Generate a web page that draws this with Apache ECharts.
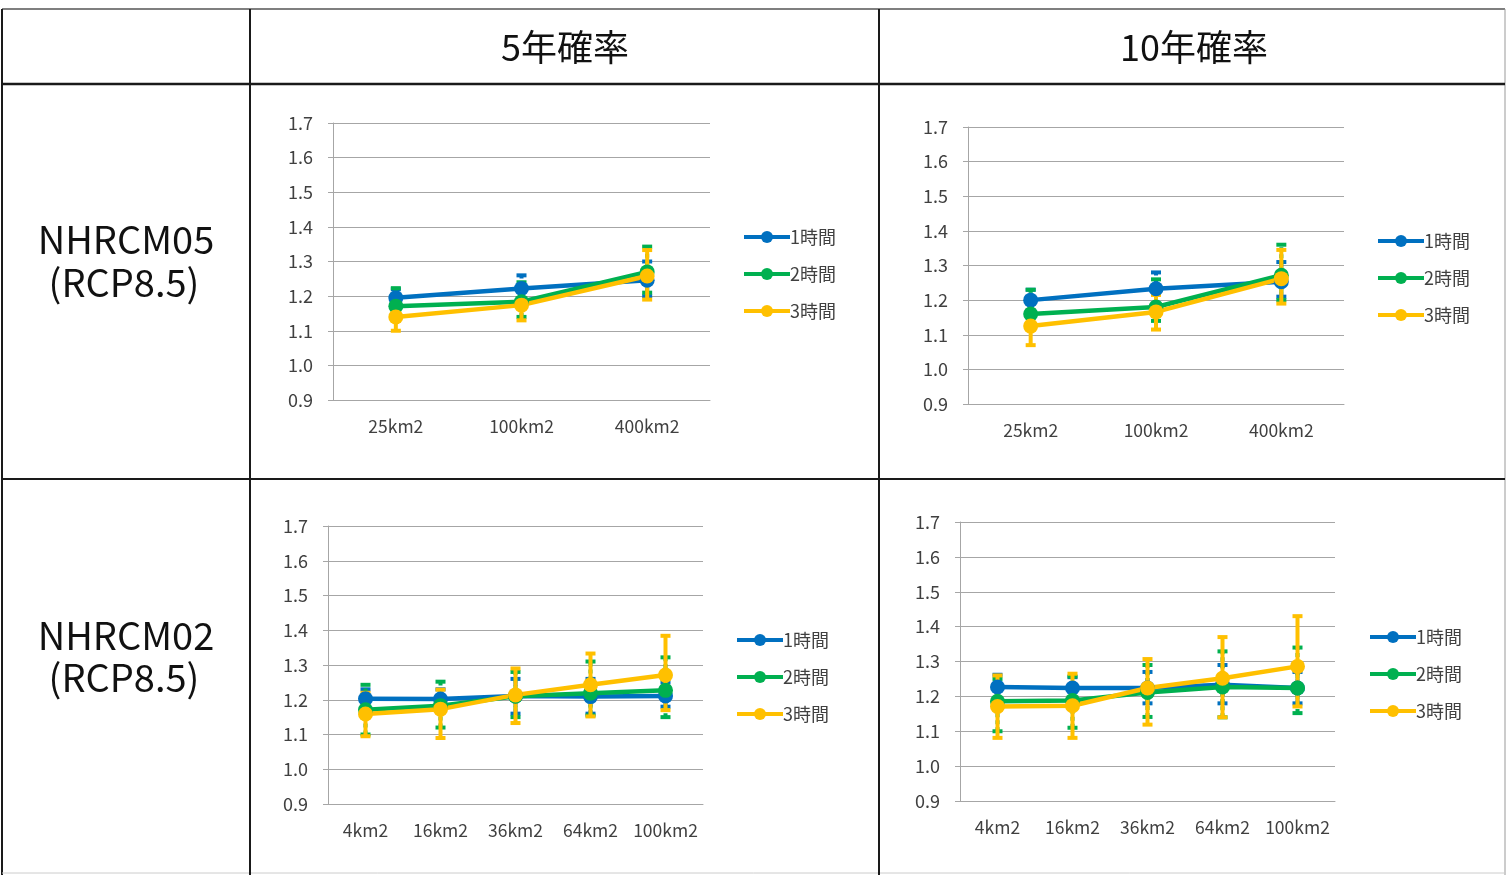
<!DOCTYPE html>
<html>
<head>
<meta charset="utf-8">
<script src="https://cdn.jsdelivr.net/npm/echarts@6/dist/echarts.min.js"></script>
<style>
  html, body { margin: 0; padding: 0; background: #fff; }
  #main { width: 1507px; height: 875px; }
</style>
</head>
<body>
<div id="main"></div>
<script>
// categories
const catsTop = ['25km2', '100km2', '400km2'];
const catsBottom = ['4km2', '16km2', '36km2', '64km2', '100km2'];
const yTicks = [0.9, 1.0, 1.1, 1.2, 1.3, 1.4, 1.5, 1.6, 1.7];
const seriesNames = ['1時間', '2時間', '3時間'];

// NHRCM05, 5年確率
const a1h = [1.195, 1.222, 1.246];
const a2h = [1.171, 1.184, 1.270];
const a3h = [1.140, 1.174, 1.258];
const a1hErr = [[1.17, 1.22], [1.19, 1.26], [1.20, 1.30]];
const a2hErr = [[1.13, 1.223], [1.14, 1.24], [1.21, 1.343]];
const a3hErr = [[1.10, 1.18], [1.13, 1.215], [1.19, 1.333]];

// NHRCM05, 10年確率
const b1h = [1.200, 1.233, 1.253];
const b2h = [1.160, 1.180, 1.272];
const b3h = [1.125, 1.166, 1.262];
const b1hErr = [[1.17, 1.23], [1.19, 1.28], [1.21, 1.31]];
const b2hErr = [[1.12, 1.23], [1.14, 1.26], [1.20, 1.36]];
const b3hErr = [[1.07, 1.17], [1.115, 1.215], [1.19, 1.345]];

// NHRCM02, 5年確率
const c1h = [1.203, 1.202, 1.211, 1.209, 1.211];
const c2h = [1.171, 1.183, 1.210, 1.219, 1.227];
const c3h = [1.159, 1.173, 1.214, 1.243, 1.271];
const c1hErr = [[1.17, 1.23], [1.17, 1.23], [1.16, 1.26], [1.16, 1.26], [1.18, 1.25]];
const c2hErr = [[1.10, 1.243], [1.12, 1.252], [1.15, 1.28], [1.155, 1.31], [1.15, 1.322]];
const c3hErr = [[1.095, 1.22], [1.09, 1.229], [1.133, 1.29], [1.152, 1.333], [1.17, 1.384]];

// NHRCM02, 10年確率
const d1h = [1.227, 1.224, 1.224, 1.233, 1.224];
const d2h = [1.186, 1.188, 1.211, 1.227, 1.224];
const d3h = [1.171, 1.173, 1.224, 1.252, 1.286];
const d1hErr = [[1.19, 1.262], [1.19, 1.255], [1.18, 1.27], [1.18, 1.29], [1.18, 1.27]];
const d2hErr = [[1.10, 1.25], [1.11, 1.257], [1.141, 1.29], [1.14, 1.329], [1.152, 1.34]];
const d3hErr = [[1.081, 1.26], [1.081, 1.265], [1.119, 1.307], [1.14, 1.37], [1.171, 1.43]];

const colors = ['#0070c0', '#00b050', '#ffc000'];
const font = '"Noto Sans CJK JP", "Noto Sans", sans-serif';
const txt = '#404040';
const gridCol = '#a6a6a6';

// where each small chart sits
const panels = [
  { grid: { left: 333, top: 123, width: 377, height: 277 }, cats: catsTop, vals: [a1h, a2h, a3h], errs: [a1hErr, a2hErr, a3hErr], legend: { left: 737, top: 227 } },
  { grid: { left: 968, top: 127, width: 376, height: 277 }, cats: catsTop, vals: [b1h, b2h, b3h], errs: [b1hErr, b2hErr, b3hErr], legend: { left: 1371, top: 231 } },
  { grid: { left: 328, top: 526, width: 375, height: 278 }, cats: catsBottom, vals: [c1h, c2h, c3h], errs: [c1hErr, c2hErr, c3hErr], legend: { left: 730, top: 630 } },
  { grid: { left: 960, top: 522, width: 375, height: 279 }, cats: catsBottom, vals: [d1h, d2h, d3h], errs: [d1hErr, d2hErr, d3hErr], legend: { left: 1363, top: 627 } }
];

function errRenderer(color, dash) {
  return function (params, api) {
    const x = api.value(0);
    const lo = api.coord([x, api.value(1)]);
    const hi = api.coord([x, api.value(2)]);
    const w = 5;
    const style = { stroke: color, lineWidth: 4, lineDash: dash, fill: null };
    return {
      type: 'group',
      children: [
        { type: 'line', shape: { x1: lo[0], y1: lo[1], x2: hi[0], y2: hi[1] }, style: style },
        { type: 'line', shape: { x1: lo[0] - w, y1: lo[1], x2: lo[0] + w, y2: lo[1] }, style: { stroke: color, lineWidth: 4 } },
        { type: 'line', shape: { x1: hi[0] - w, y1: hi[1], x2: hi[0] + w, y2: hi[1] }, style: { stroke: color, lineWidth: 4 } }
      ]
    };
  };
}

const grids = [], xAxes = [], yAxes = [], series = [], legends = [];
panels.forEach((p, gi) => {
  grids.push(p.grid);
  xAxes.push({
    type: 'category', gridIndex: gi, data: p.cats, boundaryGap: true,
    axisLine: { lineStyle: { color: gridCol, width: 1 } },
    axisTick: { lineStyle: { color: gridCol }, length: 5 },
    axisLabel: { color: txt, fontSize: 17.5, fontFamily: font, margin: 18, interval: 0 }
  });
  yAxes.push({
    type: 'value', gridIndex: gi, min: yTicks[0], max: yTicks[yTicks.length - 1], interval: 0.1,
    axisLine: { show: true, lineStyle: { color: gridCol, width: 1 } },
    axisTick: { show: true, length: 5, lineStyle: { color: gridCol } },
    splitLine: { lineStyle: { color: gridCol, width: 1 } },
    axisLabel: { color: txt, fontSize: 18, fontFamily: font, margin: 20, formatter: v => v.toFixed(1) }
  });
  // error bars
  seriesNames.forEach((name, si) => {
    series.push({
      name: name + ' err', type: 'custom', xAxisIndex: gi, yAxisIndex: gi, z: 1,
      renderItem: errRenderer(colors[si], si < 2 ? [4, 3] : null),
      data: p.errs[si].map((e, i) => [i, e[0], e[1]]),
      silent: true
    });
  });
  seriesNames.forEach((name, si) => {
    series.push({
      name: name, type: 'line', xAxisIndex: gi, yAxisIndex: gi, z: 3,
      data: p.vals[si], symbol: 'circle', symbolSize: 15,
      lineStyle: { color: colors[si], width: 4.5 },
      itemStyle: { color: colors[si] },
      animation: false
    });
  });
  legends.push({
    data: seriesNames, orient: 'vertical', left: p.legend.left, top: p.legend.top - 4,
    itemWidth: 46, itemHeight: 15, itemGap: 19,
    lineStyle: { width: 4 },
    textStyle: { color: txt, fontSize: 18, fontFamily: font, padding: [0, 0, 0, -5] }
  });
});

const dark = '#1a1a1a';
const graphics = [
  // outer frame
  { type: 'line', shape: { x1: 2, y1: 9, x2: 1505, y2: 9 }, style: { stroke: '#555', lineWidth: 1.5 } },
  { type: 'line', shape: { x1: 2, y1: 9, x2: 2, y2: 875 }, style: { stroke: dark, lineWidth: 2 } },
  { type: 'line', shape: { x1: 1505, y1: 9, x2: 1505, y2: 875 }, style: { stroke: '#999', lineWidth: 1 } },
  { type: 'line', shape: { x1: 2, y1: 873, x2: 1505, y2: 873 }, style: { stroke: '#ccc', lineWidth: 1 } },
  // inner rules
  { type: 'line', shape: { x1: 2, y1: 84, x2: 1505, y2: 84 }, style: { stroke: dark, lineWidth: 2.5 } },
  { type: 'line', shape: { x1: 2, y1: 479, x2: 1505, y2: 479 }, style: { stroke: dark, lineWidth: 2 } },
  { type: 'line', shape: { x1: 250, y1: 9, x2: 250, y2: 875 }, style: { stroke: dark, lineWidth: 2 } },
  { type: 'line', shape: { x1: 879, y1: 9, x2: 879, y2: 875 }, style: { stroke: dark, lineWidth: 2 } },
  // headers
  { type: 'text', x: 565, y: 47, style: { text: '5年確率', font: '36px ' + font, fill: '#111', textAlign: 'center', textVerticalAlign: 'middle' } },
  { type: 'text', x: 1194, y: 47, style: { text: '10年確率', font: '36px ' + font, fill: '#111', textAlign: 'center', textVerticalAlign: 'middle' } },
  // row labels
  { type: 'text', x: 126, y: 240, style: { text: 'NHRCM05', font: '38px ' + font, fill: '#111', textAlign: 'center', textVerticalAlign: 'middle' } },
  { type: 'text', x: 124, y: 283, style: { text: '(RCP8.5)', font: '38px ' + font, fill: '#111', textAlign: 'center', textVerticalAlign: 'middle' } },
  { type: 'text', x: 126, y: 636, style: { text: 'NHRCM02', font: '38px ' + font, fill: '#111', textAlign: 'center', textVerticalAlign: 'middle' } },
  { type: 'text', x: 124, y: 678, style: { text: '(RCP8.5)', font: '38px ' + font, fill: '#111', textAlign: 'center', textVerticalAlign: 'middle' } }
];

const chart = echarts.init(document.getElementById('main'));
chart.setOption({
  animation: false,
  backgroundColor: '#fff',
  grid: grids,
  xAxis: xAxes,
  yAxis: yAxes,
  legend: legends,
  series: series,
  graphic: graphics
});
</script>
</body>
</html>
